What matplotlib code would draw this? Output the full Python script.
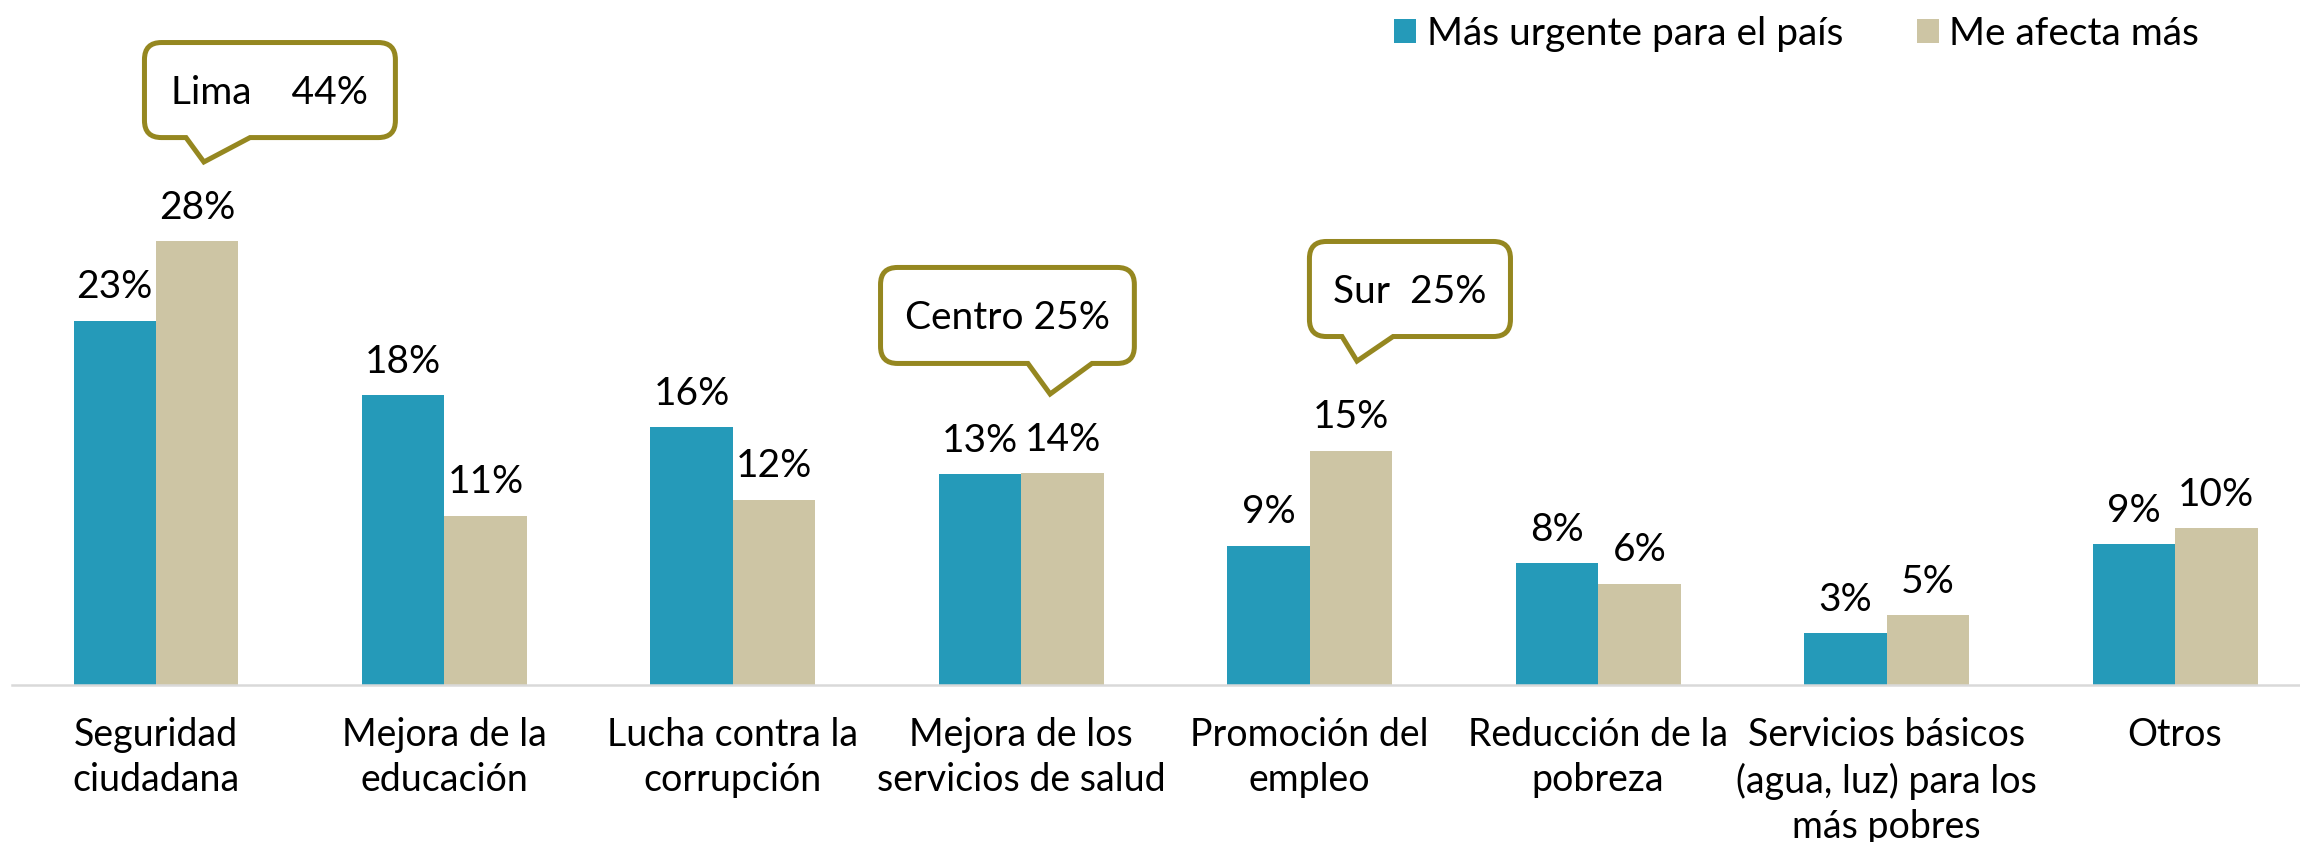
import matplotlib
matplotlib.use("Agg")
import matplotlib.pyplot as plt
import numpy as np
from matplotlib.path import Path
from matplotlib.patches import PathPatch
from matplotlib import transforms

plt.rcParams['font.family'] = ['Lato', 'DejaVu Sans']

# ---------------- data ----------------
categories = [
    "Seguridad\nciudadana",
    "Mejora de la\neducación",
    "Lucha contra la\ncorrupción",
    "Mejora de los\nservicios de salud",
    "Promoción del\nempleo",
    "Reducción de la\npobreza",
    "Servicios básicos\n(agua, luz) para los\nmás pobres",
    "Otros",
]
series_names = ["Más urgente para el país", "Me afecta más"]
urgente = [23.0, 18.3, 16.3, 13.3, 8.8, 7.7, 3.3, 8.9]
afecta = [28.0, 10.7, 11.7, 13.4, 14.8, 6.4, 4.4, 9.9]
urgente_labels = [23, 18, 16, 13, 9, 8, 3, 9]
afecta_labels = [28, 11, 12, 14, 15, 6, 5, 10]

# callouts: text, box (x0, x1, y_bottom, y_top), tail base (left, right), tip (x, y)
callout_texts = ["Lima    44%", "Centro 25%", "Sur  25%"]
callout_boxes = [(-0.040, 0.830, 34.56, 40.56),
                 (2.512, 3.392, 20.30, 26.36),
                 (3.999, 4.696, 22.00, 28.00)]
callout_tails = [(0.104, 0.326, 0.166, 33.02),
                 (3.023, 3.245, 3.100, 18.37),
                 (4.112, 4.289, 4.164, 20.45)]

# ---------------- style ----------------
BLUE = "#259AB9"
BEIGE = "#CDC5A4"
OLIVE = "#958720"
AXIS_GRAY = "#D9D9D9"

W, H = 2300, 842
fig = plt.figure(figsize=(W / 100, H / 100), dpi=100)
px_group = 288.43
px_per_unit = 15.84
baseline_px = 685
left_px = 156 - 0.5 * px_group
ax = fig.add_axes([left_px / W, (H - baseline_px) / H, 8 * px_group / W, baseline_px / H])
ax.set_xlim(-0.5, 7.5)
ax.set_ylim(0, baseline_px / px_per_unit)

x = np.arange(len(categories))
bw = 82.5 / px_group
b1 = ax.bar(x - bw / 2, urgente, bw, color=BLUE, label=series_names[0])
b2 = ax.bar(x + bw / 2, afecta, bw, color=BEIGE, label=series_names[1])

for xs, vals, labs in [(x - bw / 2, urgente, urgente_labels), (x + bw / 2, afecta, afecta_labels)]:
    for xi, v, lab in zip(xs, vals, labs):
        ax.annotate(f"{lab}%", (xi, v), xytext=(0, 16), textcoords="offset points",
                    ha="center", va="baseline", fontsize=28, color="black")

ax.set_xticks(x)
ax.set_xticklabels(categories, fontsize=27, linespacing=1.32)
ax.tick_params(axis="x", length=0, pad=23)
ax.set_yticks([])
for s in ["top", "left", "right"]:
    ax.spines[s].set_visible(False)
ax.spines["bottom"].set_color(AXIS_GRAY)
ax.spines["bottom"].set_linewidth(1.8)


def bubble(ax, box, tail, text):
    x0, x1, yb, yt = box
    tl, tr, tx, ty = tail
    rx = 17 / px_group
    ry = 17 / px_per_unit
    verts = [(x0 + rx, yt), (x1 - rx, yt), (x1, yt), (x1, yt - ry),
             (x1, yb + ry), (x1, yb), (x1 - rx, yb),
             (tr, yb), (tx, ty), (tl, yb),
             (x0 + rx, yb), (x0, yb), (x0, yb + ry),
             (x0, yt - ry), (x0, yt), (x0 + rx, yt), (x0 + rx, yt)]
    codes = [Path.MOVETO, Path.LINETO, Path.CURVE3, Path.CURVE3,
             Path.LINETO, Path.CURVE3, Path.CURVE3,
             Path.LINETO, Path.LINETO, Path.LINETO,
             Path.LINETO, Path.CURVE3, Path.CURVE3,
             Path.LINETO, Path.CURVE3, Path.CURVE3, Path.CLOSEPOLY]
    patch = PathPatch(Path(verts, codes), facecolor="white", edgecolor=OLIVE,
                      lw=3.6, joinstyle="miter", clip_on=False, zorder=5)
    ax.add_patch(patch)
    tr_off = transforms.offset_copy(ax.transData, fig=ax.figure, x=0, y=-10, units="points")
    ax.text((x0 + x1) / 2, (yb + yt) / 2, text, transform=tr_off, ha="center",
            va="baseline", fontsize=28, color="black", zorder=6)


for t, box, tail in zip(callout_texts, callout_boxes, callout_tails):
    bubble(ax, box, tail, t)

fig.legend(handles=[b1, b2], labels=series_names, loc="center right",
           bbox_to_anchor=(2199 / W, 1 - 34 / H), ncol=2, frameon=False,
           fontsize=28, handlelength=0.57, handleheight=0.57, handletextpad=0.26,
           columnspacing=1.9, borderpad=0, borderaxespad=0)

fig.savefig("out.png", dpi=100, facecolor="white")
